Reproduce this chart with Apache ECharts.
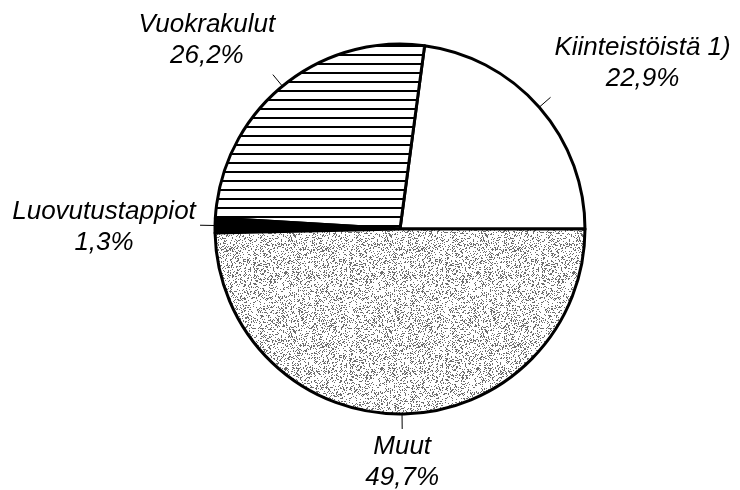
<!DOCTYPE html>
<html>
<head>
<meta charset="utf-8">
<script src="https://cdn.jsdelivr.net/npm/echarts@6/dist/echarts.min.js"></script>
<style>html,body{margin:0;padding:0;background:#fff}#c{width:740px;height:490px}</style>
</head>
<body>
<div id="c"></div>
<script>
// Data
var categories = ['Kiinteistöistä 1)', 'Vuokrakulut', 'Luovutustappiot', 'Muut'];
var shares = [22.9, 26.2, 1.3, 49.7];

// Label offsets from the end of each tick (styling, not data)
var labelOffsets = [[92, -34], [-66, -34], [-96, 2], [0, 33]];

function stripePattern() {
  var c = document.createElement('canvas');
  c.width = 8; c.height = 9;
  var g = c.getContext('2d');
  g.fillStyle = '#fff'; g.fillRect(0, 0, 8, 9);
  g.fillStyle = '#000'; g.fillRect(0, 0, 8, 2);
  return c;
}
function stipplePattern() {
  var s = 96;
  var c = document.createElement('canvas');
  c.width = s; c.height = s;
  var g = c.getContext('2d');
  g.fillStyle = '#fff'; g.fillRect(0, 0, s, s);
  g.fillStyle = '#6e6e6e';
  for (var y = 0; y < s; y++) {
    for (var x = 0; x < s; x++) {
      var h = (x * 374761393 + y * 668265263) | 0;
      h = (h ^ (h >>> 13)) * 1274126177 | 0;
      h = (h ^ (h >>> 16)) >>> 0;
      if ((h % 100) < 24) g.fillRect(x, y, 1, 1);
    }
  }
  return c;
}

var fills = [
  '#ffffff',
  { image: stripePattern(), repeat: 'repeat' },
  '#000000',
  { image: stipplePattern(), repeat: 'repeat' }
];

var chart = echarts.init(document.getElementById('c'), null, { renderer: 'canvas' });
chart.setOption({
  backgroundColor: '#fff',
  animation: false,
  series: [{
    type: 'pie',
    center: [400, 229],
    radius: 185,
    startAngle: 0,
    clockwise: false,
    avoidLabelOverlap: false,
    silent: true,
    data: categories.map(function (n, i) {
      return { name: n, value: shares[i], itemStyle: { color: fills[i] } };
    }),
    itemStyle: { borderColor: '#000', borderWidth: 3 },
    label: {
      show: true,
      position: 'outside',
      formatter: function (p) { return p.name + '\n' + p.value.toFixed(1).replace('.', ',') + '%'; },
      color: '#000',
      fontStyle: 'italic',
      fontFamily: 'Liberation Sans, Arial, sans-serif',
      fontSize: 26,
      lineHeight: 31,
      align: 'center'
    },
    labelLine: {
      show: true,
      length: 15,
      length2: 0,
      smooth: false,
      lineStyle: { color: '#000', width: 1 }
    },
    labelLayout: function (params) {
      var pts = params.labelLinePoints;
      var i = params.dataIndex;
      if (!pts || pts.length < 2) return {};
      var p0 = pts[0], p1 = pts[1];
      var dx = p1[0] - p0[0], dy = p1[1] - p0[1];
      var len = Math.sqrt(dx * dx + dy * dy) || 1;
      dx /= len; dy /= len;
      var start = [p0[0] - dx * 4, p0[1] - dy * 4];
      var end = [p1[0], p1[1]];
      var off = labelOffsets[i];
      return {
        x: end[0] + off[0],
        y: end[1] + off[1],
        align: 'center',
        verticalAlign: 'middle',
        labelLinePoints: [start, end]
      };
    }
  }]
});
</script>
</body>
</html>
